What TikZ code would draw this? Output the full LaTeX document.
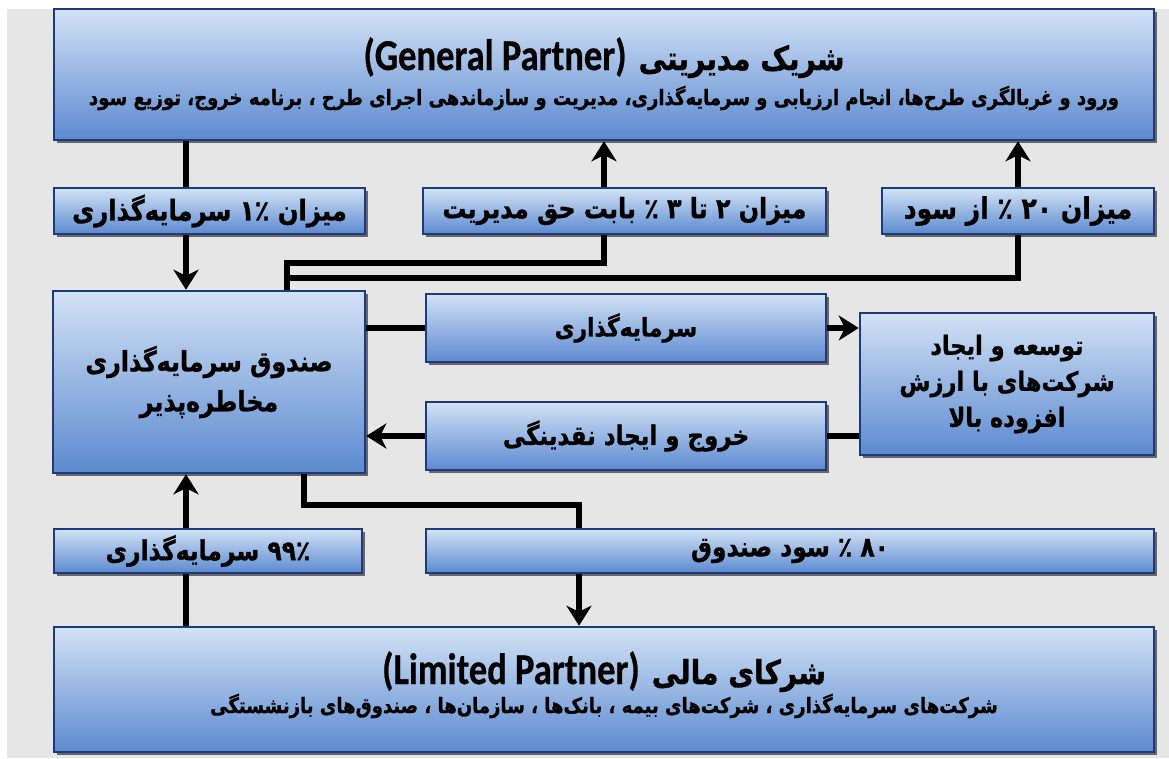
\documentclass[tikz,border=0pt]{standalone}
\usepackage{fontspec}
\usetikzlibrary{arrows.meta,shadows,backgrounds}
\TeXXeTstate=1
\newfontfamily\fa[Script=Arabic, FakeStretch=0.85, BoldFeatures={FakeBold=1}]{DejaVu Sans}
\newfontfamily\la[FakeStretch=0.83, BoldFeatures={FakeBold=0.6}]{Carlito}
\definecolor{bgray}{HTML}{E6E6E6}
\definecolor{navy}{HTML}{1F3A7A}
\definecolor{btop}{HTML}{D2E2F5}
\definecolor{bbot}{HTML}{5C8AD0}
\tikzset{
  box/.style={draw=navy, line width=2.5pt, top color=btop, bottom color=bbot,
    drop shadow={shadow xshift=2.5pt, shadow yshift=-2.5pt, opacity=0.55, fill=black},
    inner sep=0pt, align=center, font=\fa\bfseries},
  txt/.style={inner sep=0pt, align=center, anchor=base, font=\fa\bfseries},
  arr/.style={line width=5.5pt, -{Stealth[length=20pt,width=25pt,inset=6pt]}},
}
\begin{document}
\begin{tikzpicture}[x=1pt,y=-1pt]
\useasboundingbox (0,0) rectangle (1169,758);
\begin{pgfonlayer}{background}
\fill[white] (0,0) rectangle (1169,758);
\fill[bgray] (7,9) rectangle (1169,758);
\end{pgfonlayer}

% main boxes
\node[box, minimum width=1100pt, minimum height=131pt] (gp) at (604,74.5) {};
\node[txt] (gpT) at (604,70)
  {{\la\bfseries\fontsize{44}{48}\selectfont (General Partner)}\hspace{12pt}{\fontsize{33}{36}\selectfont\beginR شریک مدیریتی\endR}};
\node[txt, font=\fa\bfseries\fontsize{21.2}{24}\selectfont] (gpS) at (604,105)
  {\beginR ورود و غربالگری طرح‌ها، انجام ارزیابی و سرمایه‌گذاری، مدیریت و سازماندهی اجرای طرح ، برنامه خروج، توزیع سود\endR};

\node[box, minimum width=1100pt, minimum height=125pt] (lp) at (604,689.5) {};
\node[txt] (lpT) at (604,684)
  {{\la\bfseries\fontsize{44}{48}\selectfont (Limited Partner)}\hspace{12pt}{\fontsize{33}{36}\selectfont\beginR شرکای مالی\endR}};
\node[txt, font=\fa\bfseries\fontsize{21.2}{24}\selectfont] (lpS) at (604,713)
  {\beginR شرکت‌های سرمایه‌گذاری ، شرکت‌های بیمه ، بانک‌ها ، سازمان‌ها ، صندوق‌های بازنشستگی\endR};

\node[box, minimum width=312pt, minimum height=182pt, font=\fa\bfseries\fontsize{28}{40}\selectfont] (fund) at (209,382)
  {\beginR صندوق سرمایه‌گذاری\endR\\\beginR مخاطره‌پذیر\endR};
\node[box, minimum width=294pt, minimum height=142pt, font=\fa\bfseries\fontsize{26.5}{36}\selectfont] (dev) at (1007,384)
  {\beginR توسعه و ایجاد\endR\\\beginR شرکت‌های با ارزش\endR\\\beginR افزوده بالا\endR};

% label boxes
\node[box, minimum width=400pt, minimum height=68pt, font=\fa\bfseries\fontsize{25.5}{28}\selectfont] (inv) at (626,328)
  {\beginR سرمایه‌گذاری\endR};
\node[box, minimum width=400pt, minimum height=68pt, font=\fa\bfseries\fontsize{27}{30}\selectfont] (exit) at (626,436)
  {\beginR خروج و ایجاد نقدینگی\endR};
\node[box, minimum width=311pt, minimum height=46pt, font=\fa\bfseries\fontsize{28.5}{30}\selectfont] (bA) at (209.5,211)
  {\beginR میزان ۱٪ سرمایه‌گذاری\endR};
\node[box, minimum width=403pt, minimum height=46pt, font=\fa\bfseries\fontsize{28}{30}\selectfont] (bB) at (624.5,211)
  {\beginR میزان ۲ تا ۳ ٪ بابت حق مدیریت\endR};
\node[box, minimum width=272pt, minimum height=46pt, font=\fa\bfseries\fontsize{29.5}{30}\selectfont] (bC) at (1018,211)
  {\beginR میزان ۲۰ ٪ از سود\endR};
\node[box, minimum width=308pt, minimum height=44pt, font=\fa\bfseries\fontsize{27.5}{30}\selectfont] (b99) at (208,551)
  {\beginR ۹۹٪ سرمایه‌گذاری\endR};
\node[box, minimum width=728pt, minimum height=44pt, font=\fa\bfseries\fontsize{27.5}{30}\selectfont] (b80) at (790,551)
  {\beginR ۸۰ ٪ سود صندوق\endR};

% coordinates
\coordinate (xA) at (186,0);
\coordinate (xF) at (287,0);
\coordinate (xG) at (304,0);
\coordinate (jB) at (604,263);
\coordinate (jC) at (1018,278);
\coordinate (jD) at (579,505);

\begin{pgfonlayer}{background}
\draw[arr] (gp.south -| xA) -- (fund.north -| xA);
\draw[arr] (fund.north -| xF) |- (jB) -- (gp.south -| jB);
\draw[arr] (fund.north -| xF) |- (jC) -- (gp.south -| jC);
\draw[arr] (fund.east |- inv) -- (dev.west |- inv);
\draw[arr] (dev.west |- exit) -- (fund.east |- exit);
\draw[arr] (lp.north -| xA) -- (fund.south -| xA);
\draw[arr] (fund.south -| xG) |- (jD) -- (lp.north -| jD);
\end{pgfonlayer}
\end{tikzpicture}
\end{document}
